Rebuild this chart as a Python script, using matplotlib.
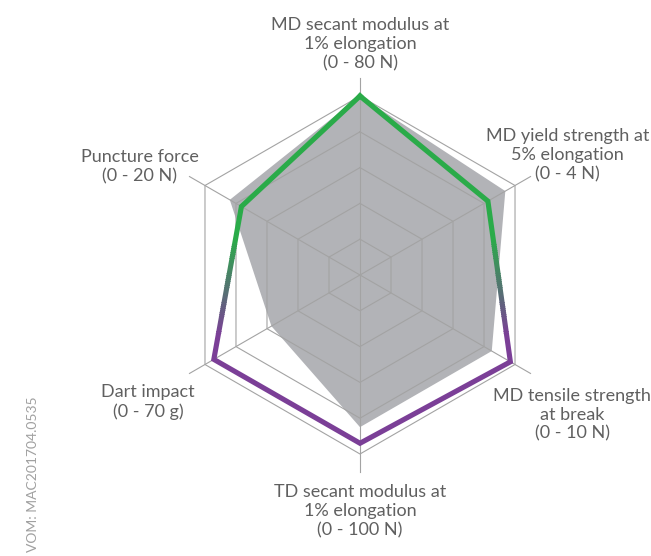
"""
Radar chart: film properties on six normalised axes.
"""

import numpy as np
import matplotlib
matplotlib.use("Agg")
import matplotlib.pyplot as plt
from matplotlib.colors import LinearSegmentedColormap
from matplotlib.patches import Rectangle

# Axis labels, clockwise from the top
labels = [
    "MD secant modulus at\n1% elongation\n(0 - 80 N)",
    "MD yield strength at\n5% elongation\n(0 - 4 N)",
    "MD tensile strength\nat break\n(0 - 10 N)",
    "TD secant modulus at\n1% elongation\n(0 - 100 N)",
    "Dart impact\n(0 - 70 g)",
    "Puncture force\n(0 - 20 N)",
]
axis_max = [80, 4, 10, 100, 70, 20]

# Highlighted product (green/purple outline)
product_vals = [80, 3.3, 9.7, 94, 66, 15.3]
# Reference product (grey area)
reference_vals = [80, 3.75, 8.5, 85, 40, 16.8]

GREEN = "#2aab49"
PURPLE = "#7b3f97"
GRID = "#a3a3a3"
FILL = "#b2b3b7"
TEXT = "#606060"

n_axes = len(labels)
angles = np.pi / 2 - np.arange(n_axes) * 2 * np.pi / n_axes


def to_xy(values):
    r = np.asarray(values, dtype=float) / np.asarray(axis_max, dtype=float)
    r = np.append(r, r[0])
    a = np.append(angles, angles[0])
    return r * np.cos(a), r * np.sin(a)


# Figure: 1 data unit = 179 px, centre at pixel (360, 275)
W, H = 651, 556
scale = 179.0
cx, cy = 360, 275
fig = plt.figure(figsize=(W / 100, H / 100), dpi=100)
ax = fig.add_axes([0, 0, 1, 1])
ax.set_xlim(-cx / scale, (W - cx) / scale)
ax.set_ylim(-(H - cy) / scale, cy / scale)
ax.axis("off")

# Grey reference area
gx, gy = to_xy(reference_vals)
ax.fill(gx, gy, color=FILL, lw=0, zorder=1)

# Hexagonal grid + spokes
for k in range(1, 6):
    r = k / 5
    a = np.append(angles, angles[0])
    ax.plot(r * np.cos(a), r * np.sin(a), color=GRID, lw=0.8, zorder=2)
for a in angles:
    ax.plot([0, 1.1 * np.cos(a)], [0, 1.1 * np.sin(a)], color=GRID, lw=0.8, zorder=2)

# Product outline, green on top fading to purple lower down
px, py = to_xy(product_vals)
y_top, y_bottom = 0.2, -0.34
n_bands = 50
cmap = LinearSegmentedColormap.from_list("gp", [GREEN, PURPLE])
edges = np.linspace(y_top, y_bottom, n_bands + 1)
bands = [(y_top, 10 - y_top, GREEN), (-10, y_bottom + 10, PURPLE)]
for i in range(n_bands):
    lo, hi = edges[i + 1], edges[i]
    bands.append((lo, hi - lo + 0.003, cmap((i + 0.5) / n_bands)))
for lo, h, c in bands:
    line, = ax.plot(px, py, color=c, lw=3.7, solid_joinstyle="miter", zorder=3)
    line.set_clip_path(Rectangle((-5, lo), 10, h, transform=ax.transData))

# Axis labels
label_pos = [
    (0.0, 1.14, "center", "bottom"),
    (1.16, 0.67, "center", "center"),
    (1.185, -0.78, "center", "center"),
    (0.0, -1.17, "center", "top"),
    (-1.185, -0.71, "center", "center"),
    (-1.23, 0.605, "center", "center"),
]
for text, (x, y, ha, va) in zip(labels, label_pos):
    ax.text(x, y, text, ha=ha, va=va, multialignment="center",
            fontsize=13, color=TEXT, family="Lato",
            linespacing=1.22)

ax.text(-1.827, -0.68, "VOM: MAC201704.0535", rotation=90, ha="center",
        va="top", fontsize=10, color="#a0a0a0", family="Lato")

fig.savefig("out.png", dpi=100)
